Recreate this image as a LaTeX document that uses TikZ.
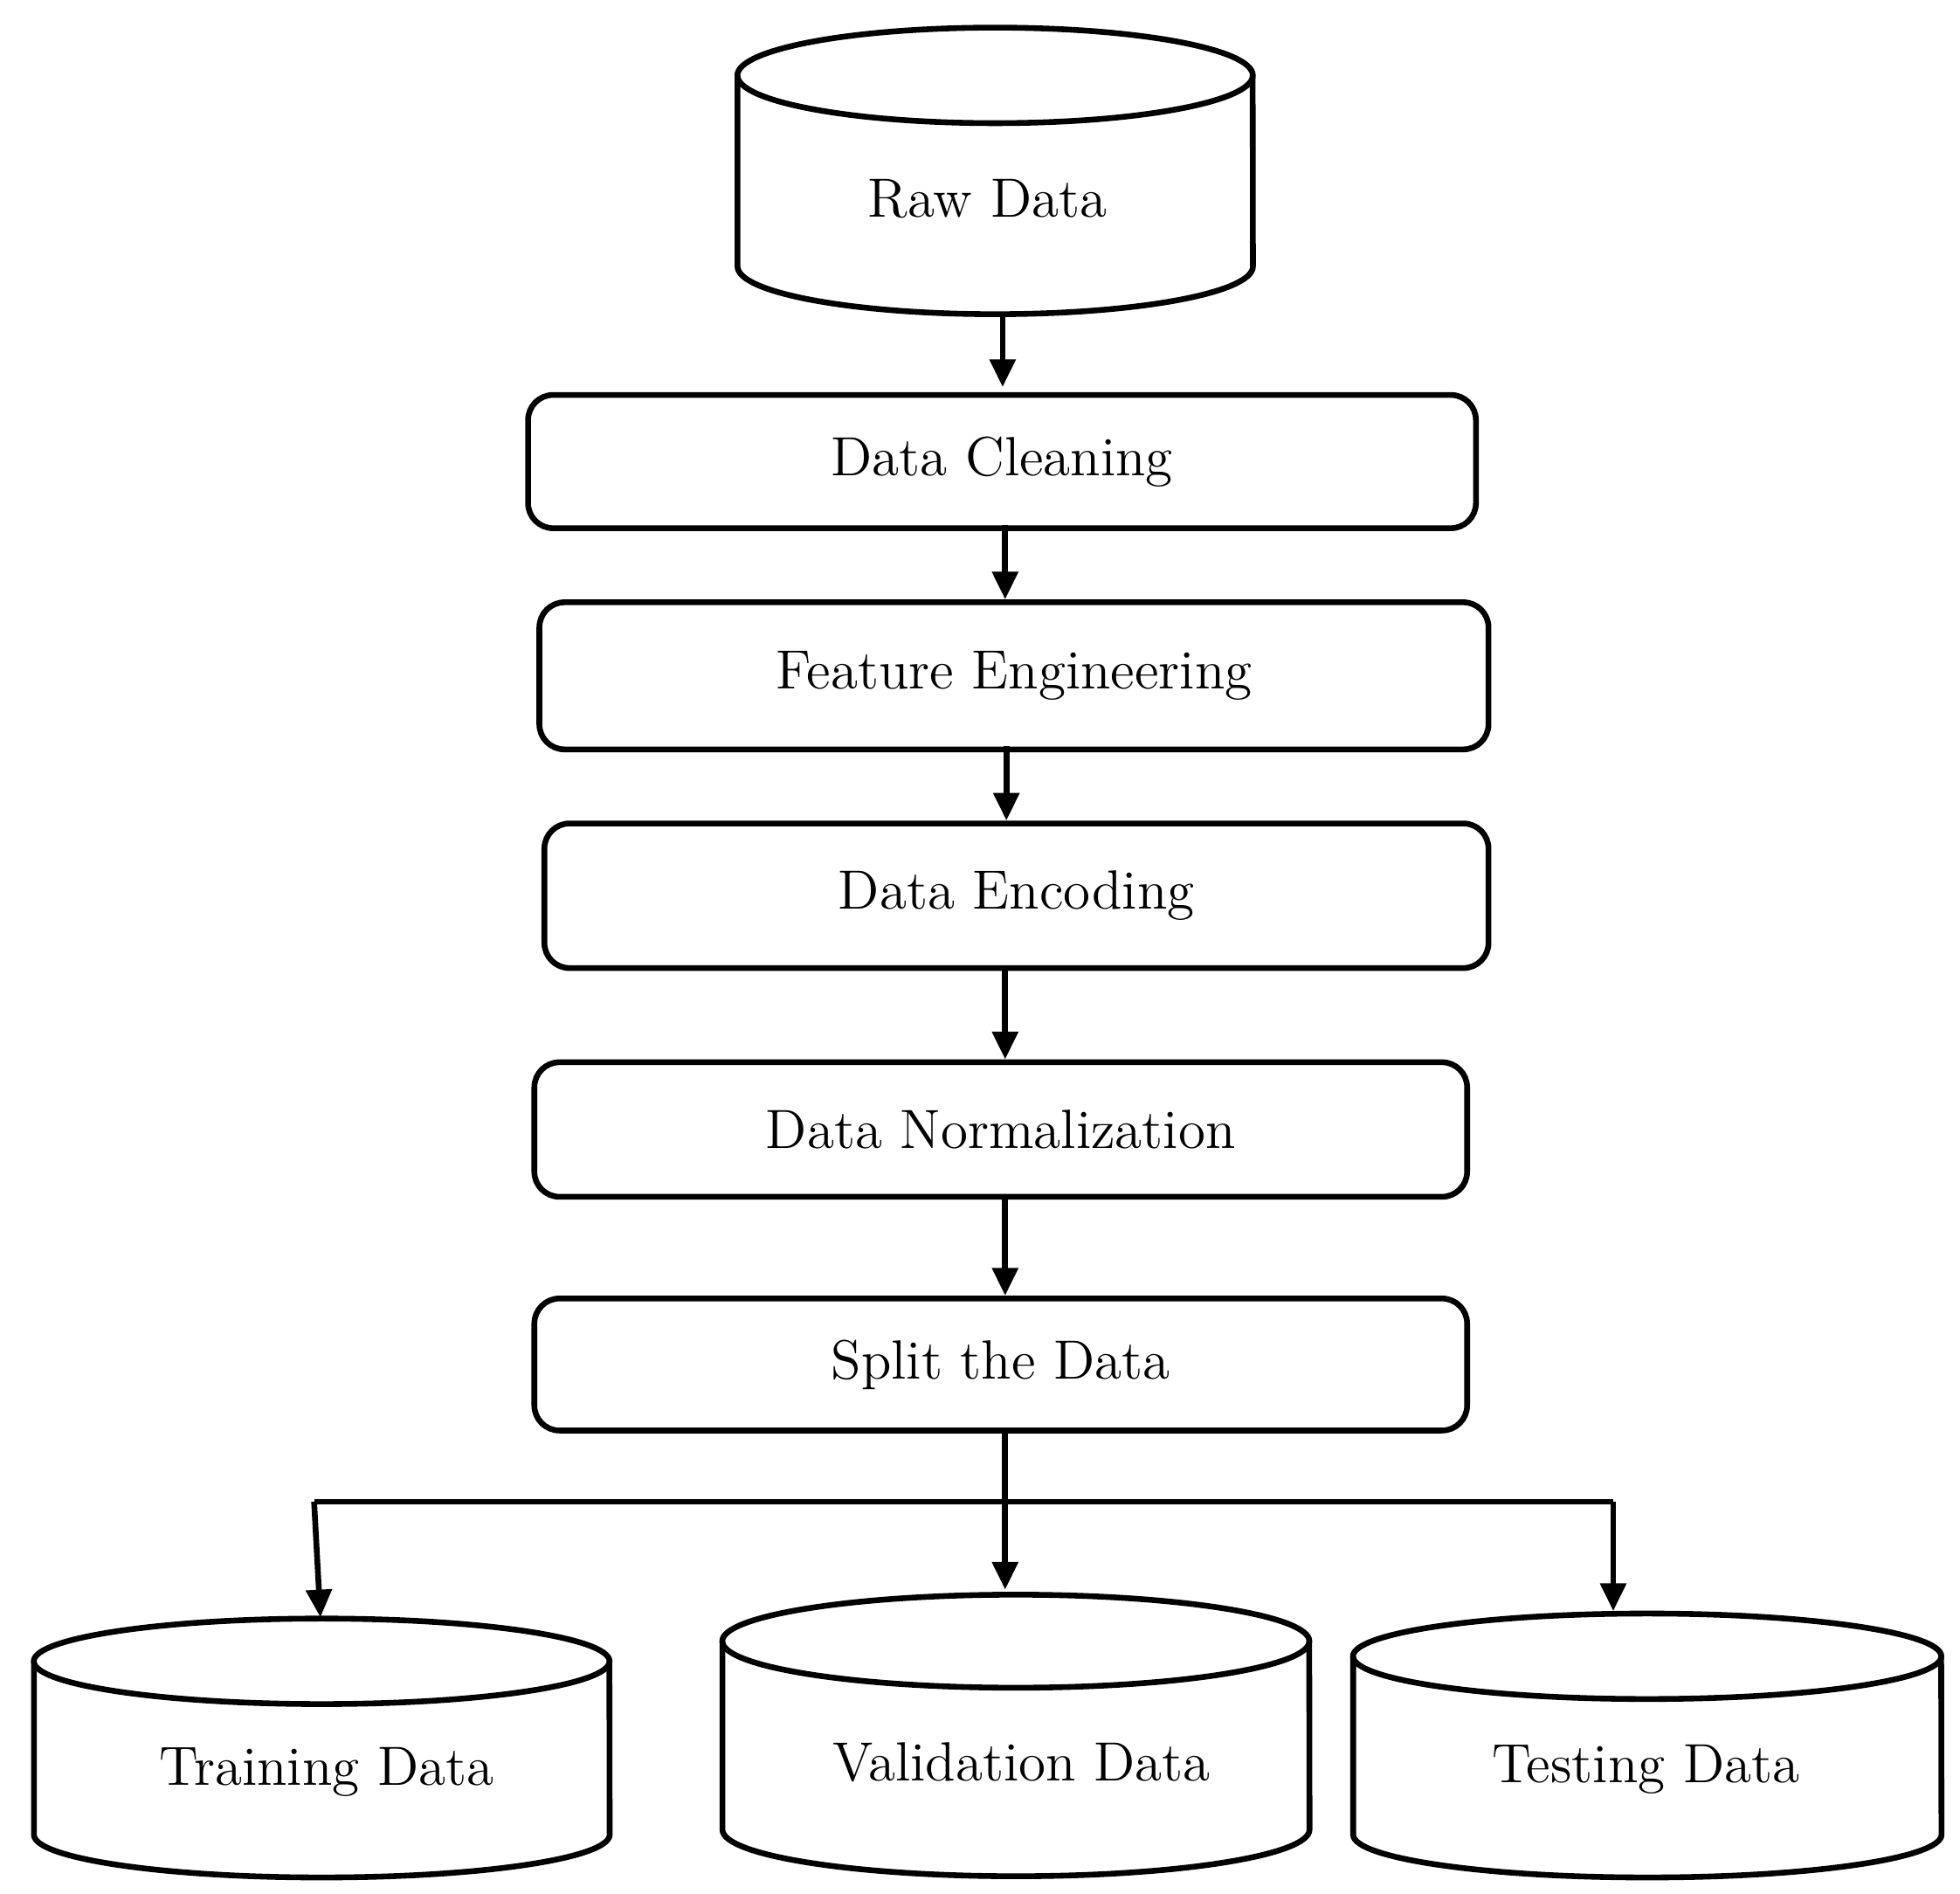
\documentclass[tikz,border=0pt]{standalone}
\usetikzlibrary{arrows.meta}
\begin{document}
\begin{tikzpicture}[x=0.01cm,y=-0.01cm,line width=1.3pt,
  box/.style={draw,rounded corners=0.2cm,anchor=north west,inner sep=0pt,font=\fontsize{12.5}{15}\selectfont},
  lbl/.style={font=\fontsize{12.5}{15}\selectfont},
  arr/.style={-{Triangle[length=0.22cm,width=0.2cm]}}]
\useasboundingbox (0,0) rectangle (1560,1507);
% Raw data cylinder
\draw[fill=white] (587,60) -- (587,212) arc[start angle=180,end angle=360,x radius=2.05cm,y radius=0.38cm] -- (997,60);
\draw (792,60) ellipse[x radius=2.05cm,y radius=0.38cm];
\node[lbl] (raw) at (786,158) {Raw Data};
\coordinate (rawb) at (798,252);
% boxes
\node[box,minimum width=7.54cm,minimum height=1.06cm] (clean) at (418,312) {Data Cleaning};
\node[box,minimum width=7.55cm,minimum height=1.17cm] (feat) at (427,477) {Feature Engineering};
\node[box,minimum width=7.51cm,minimum height=1.15cm] (enc) at (431,653) {Data Encoding};
\node[box,minimum width=7.42cm,minimum height=1.07cm] (norm) at (423,843) {Data Normalization};
\node[box,minimum width=7.42cm,minimum height=1.05cm] (split) at (423,1031) {Split the Data};
% cylinders bottom
\draw (27,1322) -- (27,1460) arc[start angle=180,end angle=360,x radius=2.29cm,y radius=0.34cm] -- (485,1322);
\draw (256,1322) ellipse[x radius=2.29cm,y radius=0.34cm];
\node[lbl] (train) at (260,1410) {Training Data};
\draw (575,1306) -- (575,1456) arc[start angle=180,end angle=360,x radius=2.335cm,y radius=0.37cm] -- (1042,1306);
\draw (808.5,1306) ellipse[x radius=2.335cm,y radius=0.37cm];
\node[lbl] (val) at (813,1402) {Validation Data};
\draw (1077,1318) -- (1077,1460) arc[start angle=180,end angle=360,x radius=2.34cm,y radius=0.34cm] -- (1545,1318);
\draw (1311,1318) ellipse[x radius=2.34cm,y radius=0.34cm];
\node[lbl] (test) at (1310,1408) {Testing Data};
\coordinate (traint) at (255,1287);
\coordinate (valt) at (800,1265);
\coordinate (testt) at (1284,1282);
\coordinate (jl) at (250,1195);
\coordinate (jm) at (800,1195);
\coordinate (jr) at (1284,1195);
% connectors
\draw[arr] (rawb) -- (798,308);
\draw[arr] (800,418) -- (feat.north -| 800,0);
\draw[arr] (801,594) -- (enc.north -| 801,0);
\draw[arr] (800,770) -- (norm.north -| 800,0);
\draw[arr] (800,952) -- (split.north -| 800,0);
\draw[arr] (split.south -| 800,0) -- (valt);
\draw (jl) -- (jr);
\draw[arr] (jl) -- (traint);
\draw[arr] (jr) -- (testt);
\end{tikzpicture}
\end{document}
